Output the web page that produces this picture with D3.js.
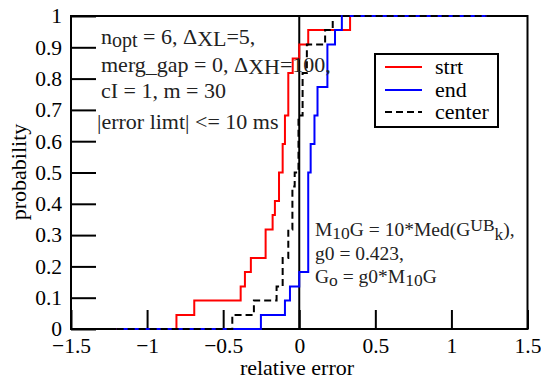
<!DOCTYPE html>
<html>
<head>
<meta charset="utf-8">
<script src="https://cdn.jsdelivr.net/npm/d3@7"></script>
<style>
	body { margin: 0; background: #fff; }
	svg text { font-family: "Liberation Serif", "Times New Roman", serif; }
</style>
</head>
<body>
<svg id="chart" width="541" height="383"></svg>
<script>
// Step points: x = relative error, p = cumulative probability
const strtX = [-1.2, -0.807, -0.69, -0.385, -0.357, -0.318, -0.221, -0.175, -0.16, -0.133, -0.109, -0.094, -0.072, -0.043, 0.0, 0.059, 0.334, 1.23];
const strtP = [0, 0.045, 0.091, 0.136, 0.182, 0.227, 0.318, 0.364, 0.409, 0.5, 0.591, 0.682, 0.818, 0.864, 0.909, 0.955, 1, 1];

const endX = [-1.2, -0.252, -0.094, -0.061, 0.0, 0.059, 0.075, 0.1, 0.12, 0.185, 0.235, 0.28, 1.23];
const endP = [0, 0.045, 0.091, 0.136, 0.182, 0.5, 0.591, 0.682, 0.773, 0.909, 0.955, 1, 1];

const centerX = [-1.2, -0.44, -0.298, -0.149, -0.109, -0.072, -0.045, -0.03, -0.005, 0.022, 0.05, 0.17, 0.22, 1.23];
const centerP = [0, 0.045, 0.091, 0.136, 0.227, 0.318, 0.455, 0.5, 0.682, 0.818, 0.909, 0.955, 1, 1];

const xTicks = [-1.5, -1, -0.5, 0, 0.5, 1, 1.5];
const yTicks = [0, 0.1, 0.2, 0.3, 0.4, 0.5, 0.6, 0.7, 0.8, 0.9, 1];

const seriesNames = ["strt", "end", "center"];
const seriesColors = ["#ff0000", "#0000ff", "#000000"];

const svg = d3.select("#chart");

const x = d3.scaleLinear().domain([-1.5, 1.5]).range([71, 527.5]);
const y = d3.scaleLinear().domain([0, 1]).range([329, 16]);

// Axes with inward ticks
const xAxis = svg.append("g")
	.attr("transform", `translate(0, ${y(0)})`)
	.call(d3.axisBottom(x).tickValues(xTicks).tickSize(-19).tickPadding(9)
		.tickFormat(d => d3.format("")(d).replace("-", "\u2212")));
const yAxis = svg.append("g")
	.attr("transform", `translate(${x(-1.5)}, 0)`)
	.call(d3.axisLeft(y).tickValues(yTicks).tickSize(-25).tickPadding(9).tickFormat(d3.format("")));

for (const axis of [xAxis, yAxis]) {
	axis.select(".domain").remove();
	axis.attr("font-family", null);
	axis.selectAll(".tick line").attr("stroke", "#000").attr("stroke-width", 2);
	axis.selectAll(".tick text").attr("fill", "#000").style("font-size", "21.5px");
}

// Frame
svg.append("rect")
	.attr("x", x(-1.5)).attr("y", y(1))
	.attr("width", x(1.5) - x(-1.5)).attr("height", y(0) - y(1))
	.attr("fill", "none").attr("stroke", "#000").attr("stroke-width", 2);

// Zero line
svg.append("line")
	.attr("x1", x(0)).attr("x2", x(0)).attr("y1", y(0)).attr("y2", y(1))
	.attr("stroke", "#000").attr("stroke-width", 2);

// Step curves
const line = d3.line().x(d => x(d[0])).y(d => y(d[1])).curve(d3.curveStepAfter);
const curves = [
	d3.zip(strtX, strtP),
	d3.zip(endX, endP),
	d3.zip(centerX, centerP)
];
curves.forEach((pts, i) => {
	svg.append("path")
		.attr("d", line(pts))
		.attr("fill", "none")
		.attr("stroke", seriesColors[i])
		.attr("stroke-width", 2)
		.attr("stroke-dasharray", i === 2 ? "7,4" : null);
});

// Axis labels
svg.append("text")
	.attr("x", 297).attr("y", 375)
	.attr("text-anchor", "middle")
	.style("font-size", "22px")
	.text("relative error");
svg.append("text")
	.attr("transform", "translate(26, 172) rotate(-90)")
	.attr("text-anchor", "middle")
	.style("font-size", "22px")
	.text("probability");

// Upper-left annotation
const note = svg.append("g").style("font-size", "22px").attr("fill", "#222");
const l1 = note.append("text").attr("x", 101).attr("y", 44);
l1.append("tspan").text("n");
l1.append("tspan").attr("dy", 3).style("font-size", "20px").text("opt");
l1.append("tspan").attr("dy", -3).text(" = 6, \u0394");
l1.append("tspan").attr("dy", 2).text("XL");
l1.append("tspan").attr("dy", -2).text("=5,");

const l2 = note.append("text").attr("x", 101).attr("y", 72);
l2.append("tspan").text("merg_gap = 0, \u0394");
l2.append("tspan").attr("dy", 2).text("XH");
l2.append("tspan").attr("dy", -2).text("=100,");

note.append("text").attr("x", 101).attr("y", 98).text("cI = 1, m = 30");
note.append("text").attr("x", 97).attr("y", 129).text("|error limt| <= 10 ms");

// Lower-right annotation
const note2 = svg.append("g").style("font-size", "19.5px").attr("fill", "#222");
const m1 = note2.append("text").attr("x", 315).attr("y", 236);
m1.append("tspan").text("M");
m1.append("tspan").attr("dy", 3).style("font-size", "17.5px").text("10");
m1.append("tspan").attr("dy", -3).text("G = 10*Med(G");
m1.append("tspan").attr("dy", -5).style("font-size", "17.5px").text("UB");
m1.append("tspan").attr("dy", 9).style("font-size", "17.5px").text("k");
m1.append("tspan").attr("dy", -4).text("),");

note2.append("text").attr("x", 315).attr("y", 260).text("g0 = 0.423,");

const m3 = note2.append("text").attr("x", 315).attr("y", 283);
m3.append("tspan").text("G");
m3.append("tspan").attr("dy", 3).style("font-size", "17.5px").text("o");
m3.append("tspan").attr("dy", -3).text(" = g0*M");
m3.append("tspan").attr("dy", 3).style("font-size", "17.5px").text("10");
m3.append("tspan").attr("dy", -3).text("G");

// Legend
const legend = svg.append("g");
legend.append("rect")
	.attr("x", 375).attr("y", 54).attr("width", 123).attr("height", 73)
	.attr("fill", "#fff").attr("stroke", "#000").attr("stroke-width", 2);
const legendY = [67, 90, 112];
seriesNames.forEach((name, i) => {
	legend.append("line")
		.attr("x1", 385).attr("x2", 422)
		.attr("y1", legendY[i]).attr("y2", legendY[i])
		.attr("stroke", seriesColors[i]).attr("stroke-width", 2)
		.attr("stroke-dasharray", i === 2 ? "7,4" : null);
	legend.append("text")
		.attr("x", 435).attr("y", legendY[i] + 6.5)
		.style("font-size", "22px")
		.text(name);
});
</script>
</body>
</html>
